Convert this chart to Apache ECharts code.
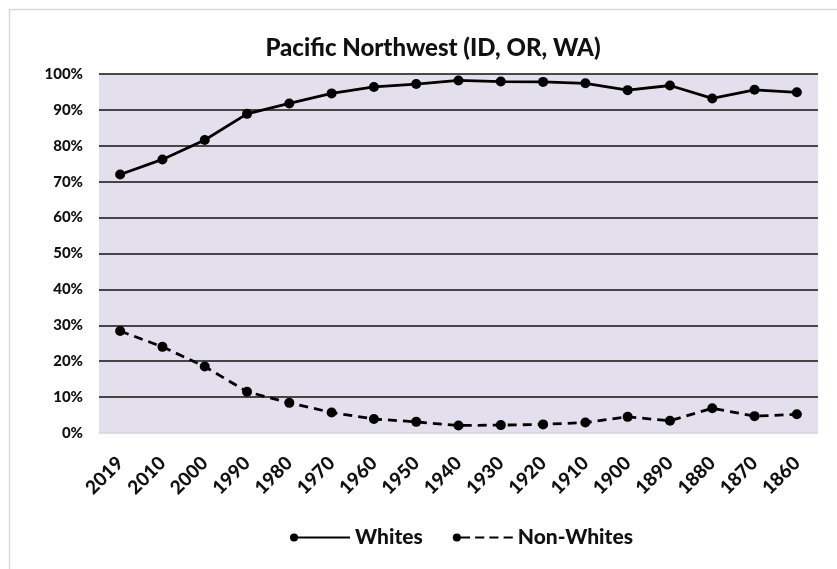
<!DOCTYPE html>
<html>
<head>
<meta charset="utf-8">
<script src="https://cdn.jsdelivr.net/npm/echarts@6/dist/echarts.min.js"></script>
<style>html,body{margin:0;padding:0;background:#fff;}#chart{width:837px;height:569px;}</style>
</head>
<body>
<div id="chart"></div>
<script>
const categories = ['2019','2010','2000','1990','1980','1970','1960','1950','1940','1930','1920','1910','1900','1890','1880','1870','1860'];
const whites = [72.0, 76.2, 81.6, 88.9, 91.8, 94.6, 96.4, 97.2, 98.2, 97.9, 97.8, 97.4, 95.5, 96.8, 93.2, 95.6, 94.9];
const nonWhites = [28.4, 24.0, 18.5, 11.5, 8.4, 5.7, 3.9, 3.1, 2.1, 2.2, 2.4, 2.9, 4.5, 3.4, 6.9, 4.7, 5.2];
const yTicks = [0, 10, 20, 30, 40, 50, 60, 70, 80, 90, 100];

const font = 'Lato, "Liberation Sans", sans-serif';
const chart = echarts.init(document.getElementById('chart'));
const solidIcon = 'path://M1,5 A4,4 0 1,1 9,5 A4,4 0 1,1 1,5 Z M5,4 L60,4 L60,6 L5,6 Z';
const dashIcon = 'path://M1,5 A4,4 0 1,1 9,5 A4,4 0 1,1 1,5 Z M5,4 L18,4 L18,6 L5,6 Z M23,4 L32,4 L32,6 L23,6 Z M37,4 L46,4 L46,6 L37,6 Z M51,4 L60,4 L60,6 L51,6 Z';
chart.setOption({
  backgroundColor: '#fff',
  animation: false,
  graphic: [{
    type: 'rect', left: 7, top: 7, shape: {width: 840, height: 570},
    style: {fill: 'none', stroke: '#d9d9d9', lineWidth: 1.5}, silent: true
  }],
  title: {
    text: 'Pacific Northwest (ID, OR, WA)',
    left: 428, top: 31, textAlign: 'center',
    textStyle: {fontFamily: font, fontWeight: 900, fontSize: 24, color: '#111'}
  },
  grid: {left: 99, right: 19, top: 74, bottom: 136, show: true, backgroundColor: '#E4DFEC', borderWidth: 0},
  xAxis: {
    type: 'category', data: categories, boundaryGap: true,
    axisLine: {show: false}, axisTick: {show: false},
    axisLabel: {rotate: 45, margin: 27, interval: 0, fontFamily: font, fontWeight: 900, fontSize: 19, color: '#111'}
  },
  yAxis: {
    type: 'value', min: 0, max: 100, interval: 10,
    axisLine: {show: false}, axisTick: {show: false},
    axisLabel: {formatter: '{value}%', margin: 16, fontFamily: font, fontWeight: 900, fontSize: 15, color: '#111'},
    splitLine: {lineStyle: {color: yTicks.map((v, i) => i === 0 ? '#d8d3e0' : '#111'), width: 1.6}}
  },
  legend: {
    left: 285, top: 522, itemWidth: 60, itemHeight: 10, itemGap: 30,
    textStyle: {fontFamily: font, fontWeight: 900, fontSize: 21, color: '#111'},
    itemStyle: {color: '#000', borderWidth: 0},
    data: [{name: 'Whites', icon: solidIcon}, {name: 'Non-Whites', icon: dashIcon}]
  },
  series: [
    {name: 'Whites', type: 'line', data: whites, symbol: 'circle', symbolSize: 10,
     itemStyle: {color: '#000'}, lineStyle: {color: '#000', width: 2.8}},
    {name: 'Non-Whites', type: 'line', data: nonWhites, symbol: 'circle', symbolSize: 10,
     itemStyle: {color: '#000'}, lineStyle: {color: '#000', width: 2.8, type: [9, 6]}}
  ]
});
</script>
</body>
</html>
